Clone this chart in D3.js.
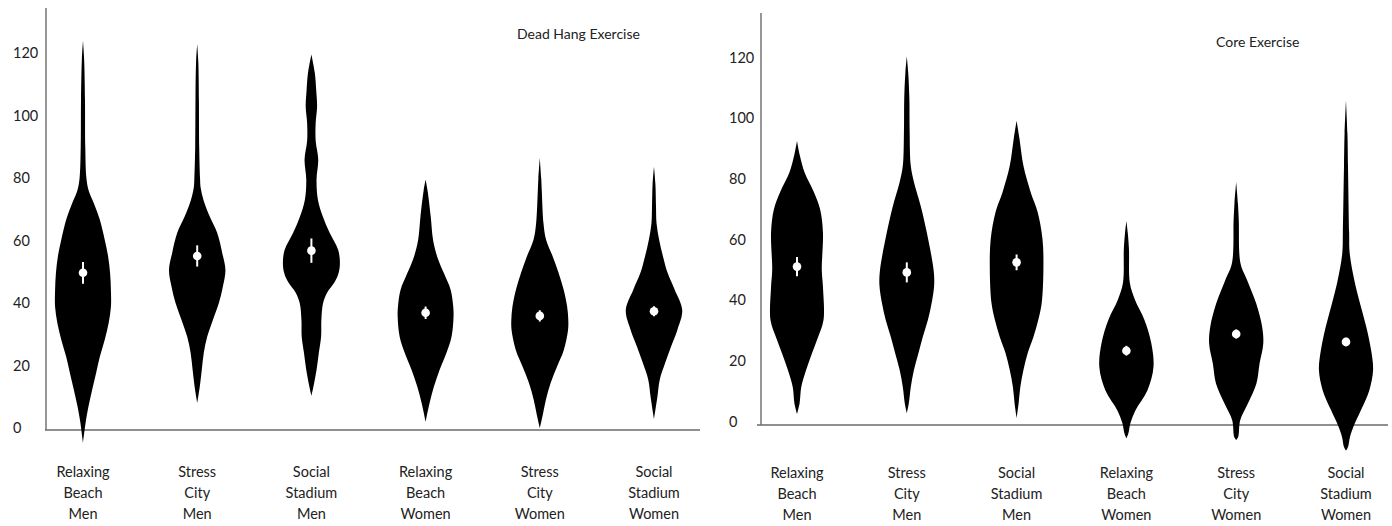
<!DOCTYPE html>
<html>
<head>
<meta charset="utf-8">
<script src="https://cdn.jsdelivr.net/npm/d3@7"></script>
<style>
  html, body { margin: 0; padding: 0; background: #fff; }
  svg { display: block; }
  text { font-family: Lato, "Open Sans", sans-serif; fill: #222; }
</style>
</head>
<body>
<svg id="chart" width="1392" height="526"></svg>
<script>
// ---- data ----
const categories = [
  ["Relaxing", "Beach", "Men"],
  ["Stress", "City", "Men"],
  ["Social", "Stadium", "Men"],
  ["Relaxing", "Beach", "Women"],
  ["Stress", "City", "Women"],
  ["Social", "Stadium", "Women"]
];
const yTicks = [0, 20, 40, 60, 80, 100, 120];
const panelTitles = ["Dead Hang Exercise", "Core Exercise"];

// violin profiles: [value, relative density]
const deadHangRelaxMen = [[124,0],[118,0.04],[105,0.07],[90,0.08],[80,0.12],[76,0.2],[72,0.38],[67,0.58],[60,0.77],[55,0.88],[49.6,0.95],[44,0.98],[38.8,0.98],[33.6,0.9],[28.2,0.76],[22.8,0.59],[17.6,0.46],[12.2,0.32],[6.8,0.19],[1.6,0.09],[-4.8,0]];
const deadHangStressMen = [[123,0],[117,0.04],[105,0.06],[90,0.07],[80,0.1],[77,0.12],[73,0.22],[67.7,0.44],[62.5,0.7],[56,0.88],[50.6,0.99],[45.2,0.9],[40,0.76],[34.6,0.55],[29.2,0.35],[24,0.23],[18.6,0.16],[13.2,0.09],[8,0]];
const deadHangSocialMen = [[119.6,0],[113.7,0.12],[108,0.17],[103,0.2],[97.7,0.15],[92,0.15],[86,0.24],[79.5,0.18],[73,0.23],[67.7,0.4],[62.5,0.64],[57,0.94],[52.8,1.0],[49.5,0.95],[46.5,0.8],[43.5,0.56],[40,0.41],[34.6,0.35],[29.2,0.34],[24,0.26],[18.6,0.18],[13.2,0.07],[10.3,0]];
const deadHangRelaxWomen = [[79.5,0],[76,0.07],[67.7,0.18],[60.3,0.26],[54.8,0.41],[49.6,0.64],[44.2,0.88],[38.8,0.97],[35.6,0.98],[29.2,0.91],[24,0.73],[18.6,0.49],[13.2,0.29],[8,0.14],[2,0]];
const deadHangStressWomen = [[86.5,0],[80,0.05],[76,0.07],[65.5,0.13],[60.3,0.22],[54.8,0.46],[49.6,0.66],[44.2,0.84],[38.8,0.96],[34.6,1.0],[31.3,0.99],[24.9,0.84],[19.8,0.61],[14.4,0.38],[8.9,0.21],[4,0.1],[0,0]];
const deadHangSocialWomen = [[83.7,0],[78,0.05],[71,0.07],[65.5,0.09],[60.3,0.18],[54.8,0.32],[49.6,0.48],[44.2,0.73],[37.8,0.99],[31.4,0.82],[25.9,0.59],[20.8,0.39],[15.4,0.2],[10,0.12],[2.9,0]];

const coreRelaxMen = [[92.5,0],[87.7,0.1],[82.3,0.26],[75.7,0.59],[70,0.81],[62.4,0.91],[50,0.87],[44.5,0.91],[33.5,0.93],[27.9,0.74],[22.6,0.53],[17,0.32],[11.4,0.15],[6,0.09],[2.5,0]];
const coreStressMen = [[120.4,0],[115,0.05],[106.5,0.09],[95.6,0.1],[84.3,0.14],[79,0.25],[71,0.49],[62.4,0.7],[50,0.94],[45,0.96],[39,0.87],[33.5,0.74],[27.9,0.56],[22.6,0.41],[17,0.25],[11.4,0.14],[6,0.07],[2.8,0]];
const coreSocialMen = [[99.2,0],[93.3,0.1],[84.3,0.24],[75.7,0.49],[69,0.74],[60,0.91],[50,0.94],[39,0.88],[33.5,0.76],[27.9,0.59],[22.6,0.39],[17,0.24],[11.4,0.13],[6,0.07],[1.2,0]];
const coreRelaxWomen = [[66.1,0],[62,0.05],[56.8,0.09],[45.8,0.12],[40.2,0.3],[33.6,0.63],[26,0.87],[18,0.95],[10.4,0.74],[3.8,0.32],[-0.5,0.14],[-3.8,0.07],[-5.5,0]];
const coreStressWomen = [[79,0],[72,0.06],[66.5,0.09],[52.2,0.15],[46.7,0.38],[39,0.7],[31.3,0.91],[25.8,0.95],[19.2,0.82],[12.6,0.71],[6,0.41],[0.5,0.14],[-5,0.07],[-6,0]];
const coreSocialWomen = [[105.8,0],[95,0.05],[84.3,0.07],[62.4,0.11],[55.5,0.13],[46.7,0.29],[39,0.49],[31.3,0.71],[23.6,0.88],[17,0.95],[10.4,0.82],[3.9,0.53],[-1.7,0.26],[-5,0.14],[-8.3,0.07],[-9.5,0]];

// means and error half-widths
const deadHangMeans = [49.7, 55.1, 56.8, 36.9, 35.9, 37.4];
const deadHangErrors = [3.5, 3.4, 3.9, 2.0, 1.8, 1.6];
const coreMeans = [51.1, 49.2, 52.5, 23.4, 28.9, 26.3];
const coreErrors = [3.2, 3.3, 2.6, 1.6, 1.5, 1.4];

// ---- layout ----
const panels = [
  {
    title: panelTitles[0], profiles: [deadHangRelaxMen, deadHangStressMen, deadHangSocialMen, deadHangRelaxWomen, deadHangStressWomen, deadHangSocialWomen],
    means: deadHangMeans, errors: deadHangErrors,
    xRange: [83, 654], yRange: [428, 53.3], axisX: 46, axisTop: 8, axisY: 430, axisLeft: 45, axisRight: 700,
    tickX: 13, titleX: 517, titleY: 39, labelY: 477
  },
  {
    title: panelTitles[1], profiles: [coreRelaxMen, coreStressMen, coreSocialMen, coreRelaxWomen, coreStressWomen, coreSocialWomen],
    means: coreMeans, errors: coreErrors,
    xRange: [797, 1346], yRange: [421.7, 57.5], axisX: 761, axisTop: 13, axisY: 425, axisLeft: 757, axisRight: 1388,
    tickX: 729, titleX: 1216, titleY: 47, labelY: 478
  }
];

const svg = d3.select("#chart");
const wScale = d3.scaleLinear().domain([0, 1]).range([0, 28.5]);

panels.forEach(p => {
  const g = svg.append("g");
  const x = d3.scalePoint().domain(d3.range(categories.length)).range(p.xRange);
  const y = d3.scaleLinear().domain([0, 120]).range(p.yRange);

  // axes lines
  g.append("line").attr("x1", p.axisX).attr("x2", p.axisX).attr("y1", p.axisTop).attr("y2", p.axisY)
    .attr("stroke", "#6a6a6a").attr("stroke-width", 1.4);
  g.append("line").attr("x1", p.axisLeft).attr("x2", p.axisRight).attr("y1", p.axisY).attr("y2", p.axisY)
    .attr("stroke", "#6a6a6a").attr("stroke-width", 1.4);

  // y tick labels
  const ax = g.append("g").attr("transform", `translate(${p.axisX},0)`)
    .call(d3.axisLeft(y).tickValues(yTicks).tickSize(0).tickFormat(d3.format("d")));
  ax.select(".domain").remove();
  ax.selectAll("text")
    .attr("x", p.tickX - p.axisX)
    .attr("text-anchor", "start")
    .style("font-family", "Lato, 'Open Sans', sans-serif")
    .style("font-size", "14.5px")
    .attr("fill", "#222");

  // violins
  p.profiles.forEach((prof, i) => {
    const cx = x(i);
    const area = d3.area()
      .y(d => y(d[0]))
      .x0(d => cx - wScale(d[1]))
      .x1(d => cx + wScale(d[1]))
      .curve(d3.curveCatmullRom.alpha(0.5));
    g.append("path").attr("d", area(prof)).attr("fill", "#000");
  });

  // mean + error bars
  p.means.forEach((m, i) => {
    const cx = x(i);
    g.append("line").attr("x1", cx).attr("x2", cx)
      .attr("y1", y(m + p.errors[i])).attr("y2", y(m - p.errors[i]))
      .attr("stroke", "#fff").attr("stroke-width", 2);
    g.append("circle").attr("cx", cx).attr("cy", y(m)).attr("r", 4.3).attr("fill", "#fff");
  });

  // category labels
  categories.forEach((lines, i) => {
    const t = g.append("text").attr("text-anchor", "middle")
      .attr("x", x(i)).attr("y", p.labelY).style("font-size", "14.5px");
    lines.forEach((ln, k) => {
      t.append("tspan").attr("x", x(i)).attr("dy", k === 0 ? 0 : 20.8).text(ln);
    });
  });

  // title
  g.append("text").attr("x", p.titleX).attr("y", p.titleY).style("font-size", "14px").text(p.title);
});
</script>
</body>
</html>
